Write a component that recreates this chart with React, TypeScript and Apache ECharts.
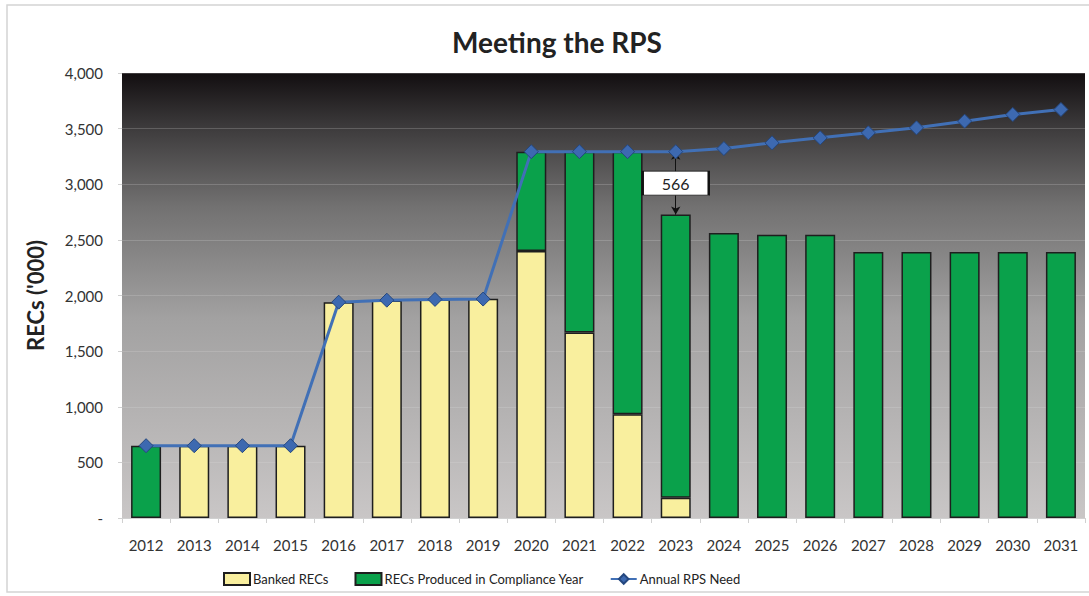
import React, { useEffect, useRef } from "react";
import * as echarts from "echarts";

const years = ["2012","2013","2014","2015","2016","2017","2018","2019","2020","2021","2022","2023","2024","2025","2026","2027","2028","2029","2030","2031"];
const banked = [0,650,650,650,1940,1955,1965,1970,2400,1668,933,183,0,0,0,0,0,0,0,0];
const produced = [650,0,0,0,0,0,0,0,893,1625,2360,2544,2562,2547,2547,2391,2391,2391,2391,2391];
const need = [650,650,650,650,1940,1958,1965,1968,3293,3293,3293,3293,3321,3372,3417,3462,3507,3567,3627,3672];
const yTicks = [0,500,1000,1500,2000,2500,3000,3500,4000];
const gapYear = "2023";

const FONT = "Lato, 'Noto Sans', sans-serif";

export default function App() {
  const ref = useRef<HTMLDivElement>(null);
  useEffect(() => {
    const chart = echarts.init(ref.current!, null, { renderer: "svg" });
    const gi = years.indexOf(gapYear);
    const total = banked[gi] + produced[gi];
    const gap = need[gi] - total;
    chart.setOption({
      animation: false,
      backgroundColor: "#ffffff",
      textStyle: { fontFamily: FONT },
      title: {
        text: "Meeting the RPS",
        left: 552,
        textAlign: "center",
        top: 23,
        textStyle: { fontFamily: FONT, fontSize: 28, fontWeight: "bold", color: "#222" },
      },
      graphic: [
        { type: "rect", shape: { x: 7, y: 5, width: 1100, height: 587 }, style: { fill: "none", stroke: "#d4d4d4", lineWidth: 1.5 }, silent: true },
      ],
      legend: {
        left: 218,
        top: 567,
        itemWidth: 26,
        itemHeight: 12,
        itemGap: 26,
        textStyle: { fontFamily: FONT, fontSize: 13, color: "#222", padding: [0, 0, 0, -2] },
        data: [
          { name: "Banked RECs", icon: "rect" },
          { name: "RECs Produced in Compliance Year", icon: "rect" },
          { name: "Annual RPS Need" },
        ],
      },
      grid: {
        left: 122,
        right: 4,
        top: 73,
        bottom: 78,
        show: true,
        borderWidth: 0,
        backgroundColor: new echarts.graphic.LinearGradient(0, 0, 0, 1, [
          { offset: 0, color: "#120e10" },
          { offset: 0.12, color: "#3c3a3b" },
          { offset: 0.3, color: "#727171" },
          { offset: 0.55, color: "#a2a1a1" },
          { offset: 1, color: "#c9c6c6" },
        ]),
      },
      xAxis: {
        type: "category",
        data: years,
        axisLine: { show: true, lineStyle: { color: "#d0d0d0" } },
        axisTick: { show: true, length: 5, lineStyle: { color: "#d0d0d0" } },
        axisLabel: { fontFamily: FONT, fontSize: 15, color: "#333", margin: 19 },
      },
      yAxis: {
        type: "value",
        min: yTicks[0],
        max: yTicks[yTicks.length - 1],
        interval: 500,
        name: "RECs ('000)",
        nameLocation: "middle",
        nameGap: 76,
        nameTextStyle: { fontFamily: FONT, fontSize: 22, fontWeight: "bold", color: "#222" },
        axisLine: { show: false },
        axisTick: { show: true, length: 4, lineStyle: { color: "#d0d0d0" } },
        axisLabel: {
          fontFamily: FONT,
          fontSize: 15,
          color: "#333",
          margin: 19,
          formatter: (v: number) => (v === 0 ? "-" : v.toLocaleString("en-US")),
        },
        splitLine: { show: true, lineStyle: { color: "rgba(225,225,225,0.22)", width: 1 } },
      },
      series: [
        {
          name: "Banked RECs",
          type: "bar",
          stack: "recs",
          barWidth: 30,
          data: banked.map((v) => (v === 0 ? null : v)),
          itemStyle: { color: "#f9ef9e", borderColor: "#1e1e1e", borderWidth: 1.5 },
        },
        {
          name: "RECs Produced in Compliance Year",
          type: "bar",
          stack: "recs",
          barWidth: 30,
          data: produced.map((v) => (v === 0 ? null : v)),
          itemStyle: { color: "#0aa14b", borderColor: "#1e1e1e", borderWidth: 1.5 },
          markLine: {
            silent: true,
            symbol: ["arrow", "arrow"],
            symbolSize: [7, 8],
            lineStyle: { color: "#111", width: 1, type: "solid" },
            label: { show: false },
            data: [[{ coord: [gapYear, need[gi]] }, { coord: [gapYear, total] }]],
          },
          markPoint: {
            silent: true,
            symbol: "rect",
            symbolSize: [66, 24],
            itemStyle: { color: "#ffffff", borderColor: "#111", borderWidth: 1.5 },
            label: { show: true, position: "inside", formatter: String(gap), fontFamily: FONT, fontSize: 16, color: "#222" },
            data: [{ coord: [gapYear, (need[gi] + total) / 2] }],
          },
        },
        {
          name: "Annual RPS Need",
          type: "line",
          data: need,
          z: 5,
          symbol: "diamond",
          symbolSize: 14,
          lineStyle: { color: "#4170b6", width: 3 },
          itemStyle: { color: "#3d69b0", borderColor: "#24477f", borderWidth: 1 },
        },
      ],
    });
    return () => chart.dispose();
  }, []);
  return <div ref={ref} style={{ position: "fixed", left: 0, top: 0, width: 1089, height: 596 }} />;
}
